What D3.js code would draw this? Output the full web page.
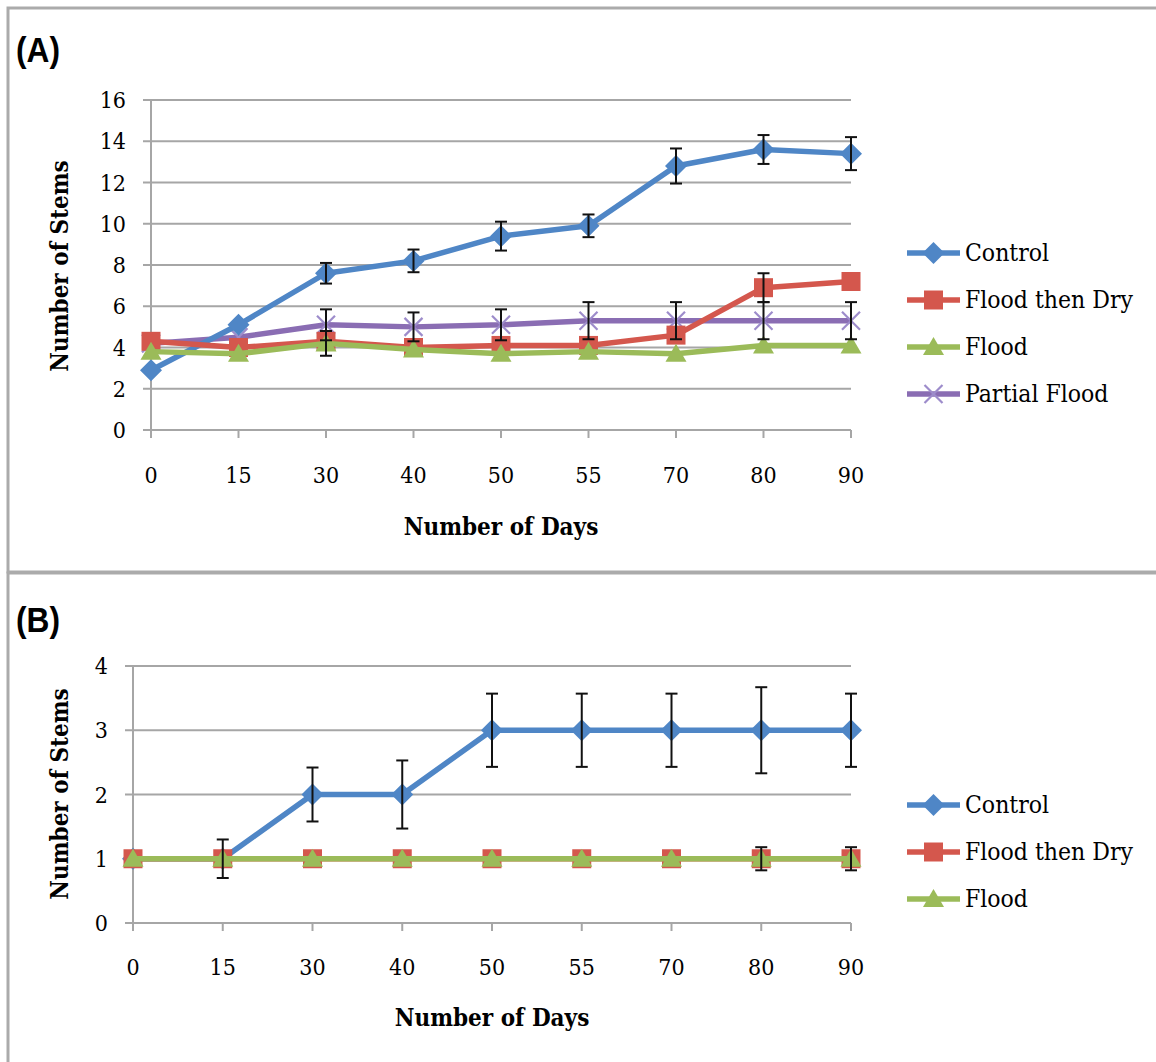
<!DOCTYPE html>
<html>
<head>
<meta charset="utf-8">
<script src="https://cdn.jsdelivr.net/npm/d3@7"></script>
<style>
	body { margin: 0; background: #fff; }
	svg text { fill: #000; }
	.tick-label { font-family: 'DejaVu Serif Condensed', 'DejaVu Serif', serif; font-stretch: condensed; font-size: 23px; }
	.axis-title { font-family: 'DejaVu Serif Condensed', 'DejaVu Serif', serif; font-stretch: condensed; font-weight: bold; font-size: 24px; }
	.legend-label { font-family: 'DejaVu Serif Condensed', 'DejaVu Serif', serif; font-stretch: condensed; font-size: 24.5px; }
	.panel-label { font-family: 'Liberation Sans Narrow', 'Liberation Sans', sans-serif; font-weight: bold; font-size: 36px; }
</style>
</head>
<body>
<div id="chart"></div>
<script>
// Categories (x axis is categorical, evenly spaced)
const days = ['0', '15', '30', '40', '50', '55', '70', '80', '90'];

// Panel A values
const controlA = [2.9, 5.1, 7.6, 8.2, 9.4, 9.9, 12.8, 13.6, 13.4];
const controlAErr = [0, 0, 0.5, 0.55, 0.7, 0.55, 0.85, 0.7, 0.8];
const floodDryA = [4.3, 4.0, 4.3, 4.0, 4.1, 4.1, 4.6, 6.9, 7.2];
const floodDryAErr = [0, 0, 0, 0, 0, 0, 0, 0.7, 0];
const floodA = [3.8, 3.7, 4.2, 3.9, 3.7, 3.8, 3.7, 4.1, 4.1];
const floodAErr = [0, 0, 0.6, 0, 0, 0, 0, 0, 0];
const partialA = [4.2, 4.5, 5.1, 5.0, 5.1, 5.3, 5.3, 5.3, 5.3];
const partialAErr = [0, 0, 0.75, 0.7, 0.75, 0.9, 0.9, 0.9, 0.9];
const yTicksA = [0, 2, 4, 6, 8, 10, 12, 14, 16];

// Panel B values
const controlB = [1, 1, 2, 2, 3, 3, 3, 3, 3];
const controlBErr = [0, 0.3, 0.42, 0.53, 0.57, 0.57, 0.57, 0.67, 0.57];
const floodDryB = [1, 1, 1, 1, 1, 1, 1, 1, 1];
const floodDryBErr = [0, 0, 0, 0, 0, 0, 0, 0.18, 0.18];
const floodB = [1, 1, 1, 1, 1, 1, 1, 1, 1];
const floodBErr = [0, 0, 0, 0, 0, 0, 0, 0, 0];
const yTicksB = [0, 1, 2, 3, 4];

const COLORS = {
	control: '#4f86c6',
	floodDry: '#d4574d',
	flood: '#9bbb59',
	partial: '#8a6db3',
	partialMark: '#9d8ccb',
};

const width = 1156;
const height = 1062;

const svg = d3.select('#chart').append('svg').attr('width', width).attr('height', height);

// Marker paths
function markerPath(type) {
	if (type === 'diamond') return 'M0,-11L11,0L0,11L-11,0Z';
	if (type === 'square') return 'M-9.5,-9.5H9.5V9.5H-9.5Z';
	if (type === 'triangle') return 'M0,-10L10.5,8L-10.5,8Z';
	return 'M-9,-9L9,9M9,-9L-9,9';
}

function drawMarker(g, type, color, x, y) {
	const p = g.append('path').attr('d', markerPath(type)).attr('transform', `translate(${x},${y})`);
	if (type === 'x') {
		p.attr('fill', 'none').attr('stroke', COLORS.partialMark).attr('stroke-width', 2.2);
	} else {
		p.attr('fill', color);
	}
}

function drawPanel(opts) {
	const g = svg.append('g');

	// frame
	g.append('rect')
		.attr('x', opts.frame[0])
		.attr('y', opts.frame[1])
		.attr('width', width + 20)
		.attr('height', opts.frame[2])
		.attr('fill', 'none')
		.attr('stroke', '#ababab')
		.attr('stroke-width', 3);

	// condensed bold panel label
	g.append('text')
		.attr('class', 'panel-label')
		.attr('transform', `translate(16,${opts.labelY}) scale(0.88,1)`)
		.text(opts.label);

	const x = d3.scalePoint().domain(days).range(opts.xRange);
	const y = d3.scaleLinear().domain(opts.yDomain).range(opts.yRange);

	// gridlines
	g.append('g')
		.selectAll('line')
		.data(opts.yTicks)
		.enter()
		.append('line')
		.attr('x1', opts.xRange[0] - 8)
		.attr('x2', opts.xRange[1])
		.attr('y1', (d) => y(d))
		.attr('y2', (d) => y(d))
		.attr('stroke', '#a6a6a6')
		.attr('stroke-width', 2);

	// y axis line
	g.append('line')
		.attr('x1', opts.xRange[0])
		.attr('x2', opts.xRange[0])
		.attr('y1', opts.yRange[0])
		.attr('y2', opts.yRange[1])
		.attr('stroke', '#a6a6a6')
		.attr('stroke-width', 2);

	// x tick marks
	g.append('g')
		.selectAll('line')
		.data(days)
		.enter()
		.append('line')
		.attr('x1', (d) => x(d))
		.attr('x2', (d) => x(d))
		.attr('y1', opts.yRange[0])
		.attr('y2', opts.yRange[0] + 8)
		.attr('stroke', '#a6a6a6')
		.attr('stroke-width', 2);

	// tick labels
	g.append('g')
		.selectAll('text')
		.data(opts.yTicks)
		.enter()
		.append('text')
		.attr('class', 'tick-label')
		.attr('text-anchor', 'end')
		.attr('x', opts.xRange[0] - 25)
		.attr('y', (d) => y(d) + 8)
		.text((d) => d);

	g.append('g')
		.selectAll('text')
		.data(days)
		.enter()
		.append('text')
		.attr('class', 'tick-label')
		.attr('text-anchor', 'middle')
		.attr('x', (d) => x(d))
		.attr('y', opts.xLabelY)
		.text((d) => d);

	// axis titles
	g.append('text')
		.attr('class', 'axis-title')
		.attr('text-anchor', 'middle')
		.attr('x', opts.xTitle[0])
		.attr('y', opts.xTitle[1])
		.text('Number of Days');

	g.append('text')
		.attr('class', 'axis-title')
		.attr('text-anchor', 'middle')
		.attr('transform', `translate(${opts.yTitle[0]},${opts.yTitle[1]}) rotate(-90)`)
		.text('Number of Stems');

	// series lines and markers
	const line = d3
		.line()
		.x((d, i) => x(days[i]))
		.y((d) => y(d));

	opts.drawOrder.forEach((s) => {
		g.append('path')
			.datum(s.values)
			.attr('d', line)
			.attr('fill', 'none')
			.attr('stroke', s.color)
			.attr('stroke-width', 5.5)
			.attr('stroke-linejoin', 'round');
		s.values.forEach((v, i) => drawMarker(g, s.marker, s.color, x(days[i]), y(v)));
	});

	// error bars on top
	opts.drawOrder.forEach((s) => {
		s.values.forEach((v, i) => {
			const e = s.err[i];
			if (!e) return;
			const cx = x(days[i]);
			const eb = g.append('g').attr('stroke', '#111').attr('stroke-width', 2);
			eb.append('line').attr('x1', cx).attr('x2', cx).attr('y1', y(v - e)).attr('y2', y(v + e));
			eb.append('line').attr('x1', cx - 6).attr('x2', cx + 6).attr('y1', y(v - e)).attr('y2', y(v - e));
			eb.append('line').attr('x1', cx - 6).attr('x2', cx + 6).attr('y1', y(v + e)).attr('y2', y(v + e));
		});
	});

	// legend
	const lg = g.append('g');
	opts.legend.forEach((s, i) => {
		const ly = opts.legendY + i * opts.legendStep;
		lg.append('line')
			.attr('x1', 907)
			.attr('x2', 960)
			.attr('y1', ly)
			.attr('y2', ly)
			.attr('stroke', s.color)
			.attr('stroke-width', 5.5);
		drawMarker(lg, s.marker, s.color, 933.5, ly);
		lg.append('text')
			.attr('class', 'legend-label')
			.attr('x', 965)
			.attr('y', ly + 8)
			.text(s.name);
	});
}

const sControlA = { name: 'Control', values: controlA, err: controlAErr, color: COLORS.control, marker: 'diamond' };
const sFloodDryA = { name: 'Flood then Dry', values: floodDryA, err: floodDryAErr, color: COLORS.floodDry, marker: 'square' };
const sFloodA = { name: 'Flood', values: floodA, err: floodAErr, color: COLORS.flood, marker: 'triangle' };
const sPartialA = { name: 'Partial Flood', values: partialA, err: partialAErr, color: COLORS.partial, marker: 'x' };

drawPanel({
	frame: [8, 8, 564],
	label: '(A)',
	labelY: 62,
	xRange: [151, 851],
	yDomain: [0, 16],
	yRange: [430, 100],
	yTicks: yTicksA,
	xLabelY: 483,
	xTitle: [501, 535],
	yTitle: [68, 266],
	drawOrder: [sPartialA, sControlA, sFloodDryA, sFloodA],
	legend: [sControlA, sFloodDryA, sFloodA, sPartialA],
	legendY: 253,
	legendStep: 47,
});

const sControlB = { name: 'Control', values: controlB, err: controlBErr, color: COLORS.control, marker: 'diamond' };
const sFloodDryB = { name: 'Flood then Dry', values: floodDryB, err: floodDryBErr, color: COLORS.floodDry, marker: 'square' };
const sFloodB = { name: 'Flood', values: floodB, err: floodBErr, color: COLORS.flood, marker: 'triangle' };

drawPanel({
	frame: [8, 573, 520],
	label: '(B)',
	labelY: 632,
	xRange: [133, 851],
	yDomain: [0, 4],
	yRange: [923, 666],
	yTicks: yTicksB,
	xLabelY: 975,
	xTitle: [492, 1026],
	yTitle: [68, 794],
	drawOrder: [sControlB, sFloodDryB, sFloodB],
	legend: [sControlB, sFloodDryB, sFloodB],
	legendY: 805,
	legendStep: 47,
});
</script>
</body>
</html>
